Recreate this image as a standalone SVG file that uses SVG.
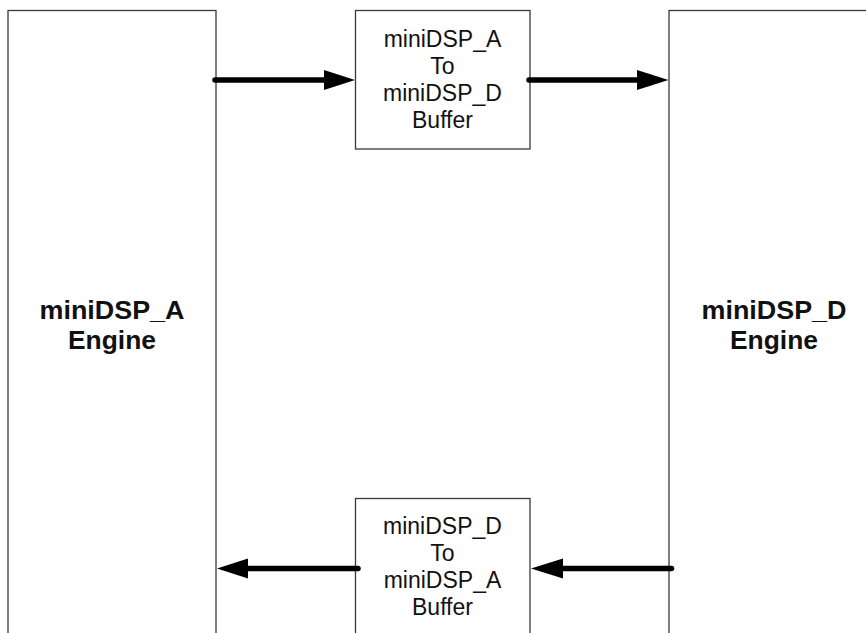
<svg xmlns="http://www.w3.org/2000/svg" width="866" height="633" viewBox="0 0 866 633">
<style>
.box{fill:#fff;stroke:#3a3a3a;stroke-width:1.3}
.t{font-family:"Liberation Sans",Arial,sans-serif;font-size:23px;fill:#111;text-anchor:middle}
.b{font-family:"Liberation Sans",Arial,sans-serif;font-size:25.5px;font-weight:bold;fill:#111;text-anchor:middle}
.c{stroke:#000;stroke-width:5.5;stroke-linecap:round;fill:none}
.h{fill:#000}
</style>
<rect width="866" height="633" fill="#fff"/>
<g id="engineA">
<rect class="box" x="8" y="10.5" width="208" height="640"/>
<text class="b" x="112" y="319" textLength="145" lengthAdjust="spacingAndGlyphs">miniDSP_A</text>
<text class="b" x="112" y="349" textLength="88" lengthAdjust="spacingAndGlyphs">Engine</text>
</g>
<g id="engineD">
<rect class="box" x="669" y="10.5" width="220" height="640"/>
<text class="b" x="774" y="319" textLength="145" lengthAdjust="spacingAndGlyphs">miniDSP_D</text>
<text class="b" x="774" y="349" textLength="88" lengthAdjust="spacingAndGlyphs">Engine</text>
</g>
<g id="bufAD">
<rect class="box" x="355.5" y="10.5" width="174.5" height="138.5"/>
<text class="t" x="442.5" y="47">miniDSP_A</text>
<text class="t" x="442.5" y="74">To</text>
<text class="t" x="442.5" y="101">miniDSP_D</text>
<text class="t" x="442.5" y="128">Buffer</text>
</g>
<g id="bufDA">
<rect class="box" x="355.5" y="498.5" width="174.5" height="160"/>
<text class="t" x="442.5" y="534">miniDSP_D</text>
<text class="t" x="442.5" y="561">To</text>
<text class="t" x="442.5" y="588">miniDSP_A</text>
<text class="t" x="442.5" y="615">Buffer</text>
</g>
<g id="connectors">
<line class="c" x1="215" y1="80" x2="326" y2="80"/>
<polygon class="h" points="324,70 355,80 324,90"/>
<line class="c" x1="529" y1="80" x2="640" y2="80"/>
<polygon class="h" points="637,70 668.5,80 637,90"/>
<line class="c" x1="358" y1="568.5" x2="246" y2="568.5"/>
<polygon class="h" points="248,558.5 217,568.5 248,578.5"/>
<line class="c" x1="671.5" y1="568.5" x2="560" y2="568.5"/>
<polygon class="h" points="563,558.5 531,568.5 563,578.5"/>
</g>
</svg>
